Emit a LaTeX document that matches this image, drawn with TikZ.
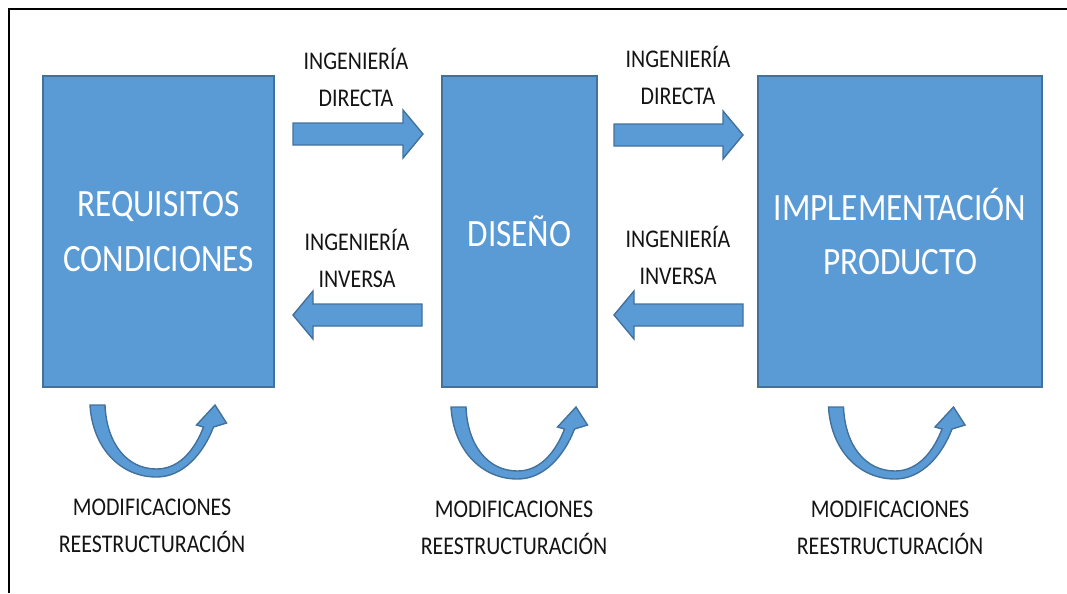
\documentclass[tikz,border=0pt]{standalone}
\usepackage{fontspec}
\setmainfont{Carlito}[FakeStretch=0.86]
\usetikzlibrary{positioning}
\definecolor{azul}{RGB}{91,155,213}
\definecolor{azulborde}{RGB}{65,113,156}
\definecolor{texto}{RGB}{20,20,20}
\tikzset{
	caja/.style={draw=azulborde, line width=1.2pt, fill=azul, text=white,
		align=center, minimum height=6.22cm, inner sep=0pt,
		font=\fontsize{22}{31}\selectfont},
	etiqueta/.style={text=texto, align=center, inner sep=0pt,
		font=\fontsize{14.5}{21}\selectfont},
	flecha/.style={draw=azulborde, line width=0.8pt, fill=azul},
	curva/.pic={
		\path[flecha] (-68.5,17) .. controls (-66,60) and (-38,89) .. (-2,89)
			.. controls (25,89) and (45,65) .. (55,39) -- (68,35) -- (56.5,17)
			-- (38,37) -- (45,39) .. controls (37,60) and (22,81) .. (-2,81)
			.. controls (-32,81) and (-52,55) .. (-53.5,17) -- cycle;
	}
}
% flecha de bloque: x inicio, x punta, y, sentido (1 derecha, -1 izquierda)
\newcommand{\flechabloque}[4]{
	\path[flecha] (#1,#3-11) -- (#2-20*#4,#3-11) -- (#2-20*#4,#3-24) -- (#2,#3)
		-- (#2-20*#4,#3+24) -- (#2-20*#4,#3+11) -- (#1,#3+11) -- cycle;
}
\begin{document}
\begin{tikzpicture}[x=0.02cm,y=-0.02cm]
	\useasboundingbox (0,0) rectangle (1067,593);
	%Marco
	\draw[line width=1.1pt] (1067,9) -- (9,9) -- (9,593);
	%Cajas
	\node[caja, minimum width=4.62cm] (req) at (158.5,231.5) {REQUISITOS\\CONDICIONES};
	\node[caja, minimum width=3.1cm, right=3.32cm of req] (dis) {DISEÑO};
	\node[caja, minimum width=5.68cm, right=3.18cm of dis] (imp) {IMPLEMENTACIÓN\\PRODUCTO};
	%Flechas entre cajas
	\flechabloque{293}{423}{134}{1}
	\flechabloque{422}{293}{315}{-1}
	\flechabloque{614}{743}{135}{1}
	\flechabloque{743}{614}{315}{-1}
	\node[etiqueta] (dir1) at (356,77) {INGENIERÍA\\DIRECTA};
	\node[etiqueta] (inv1) at (357,258) {INGENIERÍA\\INVERSA};
	\node[etiqueta] (dir2) at (678,75) {INGENIERÍA\\DIRECTA};
	\node[etiqueta] (inv2) at (678,255) {INGENIERÍA\\INVERSA};
	%Flechas curvas
	\pic at (158.5,388) {curva};
	\pic at (519.5,390) {curva};
	\pic at (897,390) {curva};
	\node[etiqueta] (mod1) at (152,525.5) {MODIFICACIONES\\REESTRUCTURACIÓN};
	\node[etiqueta] (mod2) at (514,528) {MODIFICACIONES\\REESTRUCTURACIÓN};
	\node[etiqueta] (mod3) at (890,528) {MODIFICACIONES\\REESTRUCTURACIÓN};
\end{tikzpicture}
\end{document}
